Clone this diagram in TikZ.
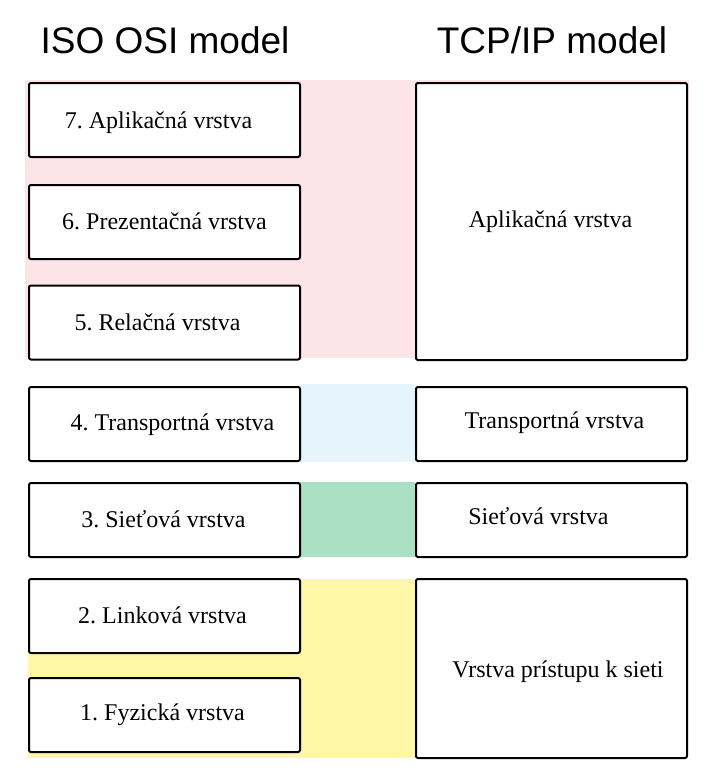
\documentclass[tikz,border=0pt]{standalone}
\usepackage{fontspec}
\setmainfont{Liberation Serif}
\newfontfamily\titlefont{Liberation Sans}
\usetikzlibrary{positioning}
\frenchspacing
\definecolor{bandpink}{RGB}{252,228,232}
\definecolor{bandblue}{RGB}{230,245,252}
\definecolor{bandgreen}{RGB}{170,224,196}
\definecolor{bandyellow}{RGB}{255,247,166}
\tikzset{layerbox/.style={draw=black, line width=2pt, rounded corners=2pt, fill=white, inner sep=0pt, minimum width=271pt},
         layertext/.style={inner sep=0pt, anchor=base, font=\rmfamily\fontsize{24}{28}\selectfont},
         modeltitle/.style={inner sep=0pt, anchor=base, font=\titlefont\fontsize{37}{44}\selectfont}}

\begin{document}
\begin{tikzpicture}[x=1pt,y=-1pt]
  \useasboundingbox (0,0) rectangle (727,776);
  % colour bands behind the boxes
  \fill[bandpink]   (25,80)  rectangle (689,358);
  \fill[bandblue]   (300,384) rectangle (415,462);
  \fill[bandgreen]  (300,482) rectangle (415,557);
  \fill[bandyellow] (28,579) rectangle (415,758);
  % titles
  \node[modeltitle] (osititle) at (165,54) {ISO OSI model};
  \node[modeltitle] (tcptitle) at (552,54) {TCP/IP model};
  % ISO OSI layers
  \foreach \n/\y/\tx/\ty/\t in {7/120/158.5/128/Aplikačná, 6/222/164.5/229/Prezentačná, 5/322.5/157.5/330/Relačná,
                                4/424/172.5/430/Transportná, 3/520/163.5/527/Sieťová, 2/616/162.5/623/Linková, 1/715/162.5/720/Fyzická} {
    \node[layerbox, minimum height=74pt] (osi\n) at (164.5,\y) {};
    \node[layertext] (osit\n) at (\tx,\ty) {\n. \t{} vrstva};
  }
  % TCP/IP layers
  \node[layerbox, minimum height=277pt] (tcpapp) at (551.5,221.5) {};
  \node[layertext] (tcpappt) at (550.5,227) {Aplikačná vrstva};
  \node[layerbox, minimum height=74pt] (tcptrans) at (551.5,424) {};
  \node[layertext] (tcptranst) at (554.5,428) {Transportná vrstva};
  \node[layerbox, minimum height=74pt] (tcpnet) at (551.5,520) {};
  \node[layertext] (tcpnett) at (538.5,524) {Sieťová vrstva};
  \node[layerbox, minimum height=179pt] (tcplink) at (551.5,668.5) {};
  \node[layertext] (tcplinkt) at (558,677) {Vrstva prístupu k sieti};
\end{tikzpicture}
\end{document}
